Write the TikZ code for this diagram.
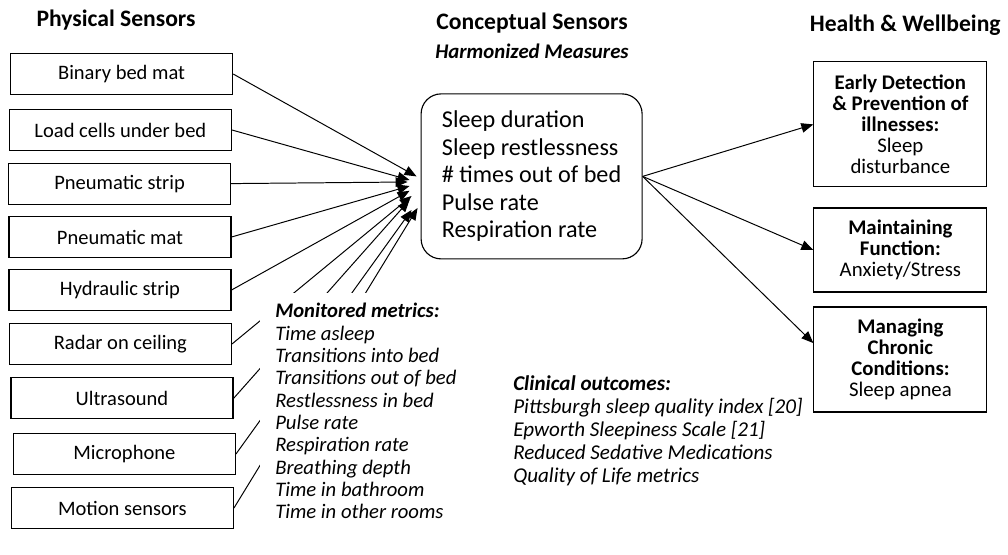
\documentclass[tikz,border=0pt]{standalone}
\usepackage{fontspec}
\setmainfont{Carlito}
\usetikzlibrary{positioning,calc,arrows.meta}

\tikzset{
  sensor/.style={draw, line width=0.8pt, minimum width=5.55cm, minimum height=1.025cm,
    font=\fontsize{14.6}{16}\selectfont},
  concept/.style={draw, line width=0.8pt, rounded corners=0.5cm, minimum width=5.525cm,
    minimum height=4.125cm, align=left, font=\fontsize{17.2}{19.6}\selectfont},
  goal/.style={draw, line width=0.8pt, minimum width=4.325cm, align=center,
    font=\fontsize{14.8}{15}\selectfont},
  header/.style={font=\fontsize{16.8}{18}\selectfont\bfseries},
  arr/.style={line width=0.7pt, -{Triangle[length=0.3cm,width=0.24cm]}},
  plain/.style={line width=0.7pt}
}

\begin{document}
\begin{tikzpicture}

\useasboundingbox (0,0) rectangle (25.2,13.85);

% column headers
\node[header] (hps) at (2.9,13.35) {Physical Sensors};
\node[header] (hcs) at (13.3,13.275) {Conceptual Sensors};
\node[header, font=\fontsize{14.8}{16}\selectfont\bfseries\itshape, below=0.02cm of hcs] (hhm) {Harmonized Measures};
\node[header] (hhw) at (22.63,13.225) {Health \& Wellbeing};

% physical sensors
\node[sensor] (bbm) at (3.04,12.0) {Binary bed mat};
\node[sensor] (lcb) at (3.01,10.6) {Load cells under bed};
\node[sensor] (pst) at (2.99,9.26) {Pneumatic strip};
\node[sensor] (pma) at (3.0,7.925) {Pneumatic mat};
\node[sensor] (hst) at (3.0,6.6) {Hydraulic strip};
\node[sensor] (roc) at (3.01,5.25) {Radar on ceiling};
\node[sensor] (uls) at (3.05,3.89) {Ultrasound};
\node[sensor] (mic) at (3.11,2.5) {Microphone};
\node[sensor] (mot) at (3.06,1.15) {Motion sensors};

% conceptual sensors
\node[concept] (cs) at (13.29,9.44) {Sleep duration\\ Sleep restlessness\\ \# times out of bed\\ Pulse rate\\ Respiration rate};

% health and wellbeing
\node[goal, minimum height=3.125cm] (edp) at (22.51,10.74)
  {\textbf{Early Detection}\\ \textbf{\& Prevention of}\\ \textbf{illnesses:}\\ Sleep\\ disturbance};
\node[goal, minimum height=2.1cm] (maf) at (22.51,7.6)
  {\textbf{Maintaining}\\ \textbf{Function:}\\ Anxiety/Stress};
\node[goal, minimum height=2.625cm] (mcc) at (22.51,4.8625)
  {\textbf{Managing}\\ \textbf{Chronic}\\ \textbf{Conditions:}\\ Sleep apnea};

% sensors into the conceptual box
\draw[arr] (bbm.east) -- ([xshift=-0.1cm]cs.west);
\draw[arr] (lcb.east) -- ([xshift=-0.275cm,yshift=-0.09cm]cs.west);
\draw[arr] (pst.east) -- ([xshift=-0.325cm,yshift=-0.14cm]cs.west);
\draw[arr] (pma.east) -- ([xshift=-0.275cm,yshift=-0.24cm]cs.west);
\draw[arr] (hst.east) -- ([xshift=-0.275cm,yshift=-0.36cm]cs.west);
\draw[arr] (roc.east) -- ([xshift=-0.225cm,yshift=-0.49cm]cs.west);
\draw[arr] (uls.east) -- ([xshift=-0.275cm,yshift=-0.59cm]cs.west);
\draw[arr] (mic.east) -- ([xshift=-0.225cm,yshift=-0.84cm]cs.west);
\draw[arr] (mot.east) -- ([xshift=-0.075cm,yshift=-0.79cm]cs.west);

% conceptual box to outcomes
\draw[arr] (cs.east) -- (edp.west);
\draw[arr] (cs.east) -- (maf.west);
\draw[arr] (cs.east) -- ([yshift=0.41cm]mcc.west);

% metric lists (white fill hides the lines behind)
\node[fill=white, anchor=north west, align=left, inner xsep=0.375cm, inner ysep=0.25cm,
  font=\fontsize{14.7}{15.9}\selectfont\itshape] (mm) at (6.5,6.525)
  {\textbf{Monitored metrics:}\\ Time asleep\\ Transitions into bed\\ Transitions out of bed\\
   Restlessness in bed\\ Pulse rate\\ Respiration rate\\ Breathing depth\\
   Time in bathroom\\ Time in other rooms};
\node[anchor=north west, align=left, inner sep=0pt,
  font=\fontsize{15}{16.4}\selectfont\itshape] (co) at (12.825,4.475)
  {\textbf{Clinical outcomes:}\\ Pittsburgh sleep quality index [20]\\ Epworth Sleepiness Scale [21]\\
   Reduced Sedative Medications\\ Quality of Life metrics};

\end{tikzpicture}
\end{document}
